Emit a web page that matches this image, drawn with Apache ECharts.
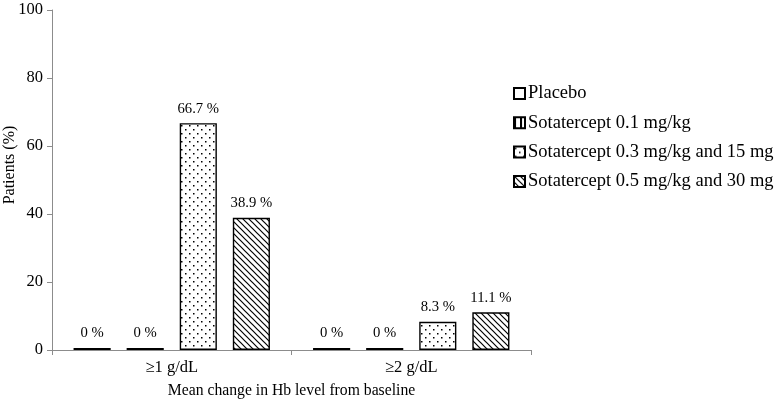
<!DOCTYPE html>
<html><head><meta charset="utf-8">
<script src="https://cdn.jsdelivr.net/npm/echarts@6/dist/echarts.min.js"></script>
<style>html,body{margin:0;padding:0;background:#fff}#c{width:777px;height:401px}</style>
</head><body><div id="c"></div>
<script>
const categories = ['≥1 g/dL', '≥2 g/dL'];
const seriesNames = ['Placebo', 'Sotatercept 0.1 mg/kg', 'Sotatercept 0.3 mg/kg and 15 mg', 'Sotatercept 0.5 mg/kg and 30 mg'];
const placebo = [0, 0];
const sot01 = [0, 0];
const sot03 = [66.7, 8.3];
const sot05 = [38.9, 11.1];
const yTicks = [0, 20, 40, 60, 80, 100];

function makePattern(kind) {
  const c = document.createElement('canvas');
  const s = kind === 'dots' ? 8 : 6;
  c.width = s; c.height = s;
  const g = c.getContext('2d');
  g.fillStyle = '#fff'; g.fillRect(0, 0, s, s);
  g.fillStyle = '#000'; g.strokeStyle = '#000';
  if (kind === 'dots') {
    g.fillRect(1, 1, 1.5, 1.5);
    g.fillRect(5, 5, 1.5, 1.5);
  } else if (kind === 'vert') {
    g.fillRect(0, 0, 2, s);
  } else if (kind === 'diag') {
    g.lineWidth = 1.2;
    g.beginPath();
    g.moveTo(-1, -1); g.lineTo(s + 1, s + 1);
    g.moveTo(-1, s - 1); g.lineTo(1, s + 1);
    g.moveTo(s - 1, -1); g.lineTo(s + 1, 1);
    g.stroke();
  }
  return { image: c, repeat: 'repeat' };
}

const fills = ['#ffffff', makePattern('vert'), makePattern('dots'), makePattern('diag')];
const datas = [placebo, sot01, sot03, sot05];
const font = 'Liberation Serif';

const chart = echarts.init(document.getElementById('c'), null, { renderer: 'canvas' });
chart.setOption({
  animation: false,
  backgroundColor: '#fff',
  grid: { left: 52, right: 246, top: 10, bottom: 51, containLabel: false, outerBoundsMode: 'none' },
  legend: {
    orient: 'vertical', left: 508, top: 79,
    itemWidth: 11, itemHeight: 11, itemGap: 10.3,
    icon: 'rect',
    textStyle: { fontFamily: font, fontSize: 18.5, color: '#000', padding: [0, 0, 0, -2] },
    data: seriesNames
  },
  xAxis: {
    type: 'category', data: categories,
    axisLine: { lineStyle: { color: '#8c8c8c', width: 1 } },
    axisTick: { show: true, length: 5, lineStyle: { color: '#8c8c8c' } },
    axisLabel: { fontFamily: font, fontSize: 16.5, color: '#000', margin: 9 },
    name: 'Mean change in Hb level from baseline',
    nameLocation: 'middle', nameGap: 33, nameMoveOverlap: false,
    nameTextStyle: { fontFamily: font, fontSize: 15.7, color: '#000' }
  },
  yAxis: {
    type: 'value', min: 0, max: 100, interval: 20,
    axisLine: { show: true, lineStyle: { color: '#8c8c8c', width: 1 } },
    axisTick: { show: true, length: 5, lineStyle: { color: '#8c8c8c' } },
    splitLine: { show: false },
    axisLabel: { fontFamily: font, fontSize: 16.5, color: '#000', margin: 9,
      formatter: v => yTicks.includes(v) ? String(v) : '' },
    name: 'Patients (%)', nameLocation: 'middle', nameGap: 34, nameMoveOverlap: false,
    nameTextStyle: { fontFamily: font, fontSize: 16, color: '#000', padding: [0, 0, 0, 30] }
  },
  series: seriesNames.map((n, i) => ({
    name: n, type: 'bar', data: datas[i],
    barGap: '43%', barCategoryGap: '18%', barMinHeight: 2,
    itemStyle: { color: fills[i], borderColor: '#000', borderWidth: 1.4 },
    label: { show: true, position: 'top', distance: 7, formatter: p => p.value + ' %',
      fontFamily: font, fontSize: 14.7, color: '#000' }
  }))
});
</script></body></html>
